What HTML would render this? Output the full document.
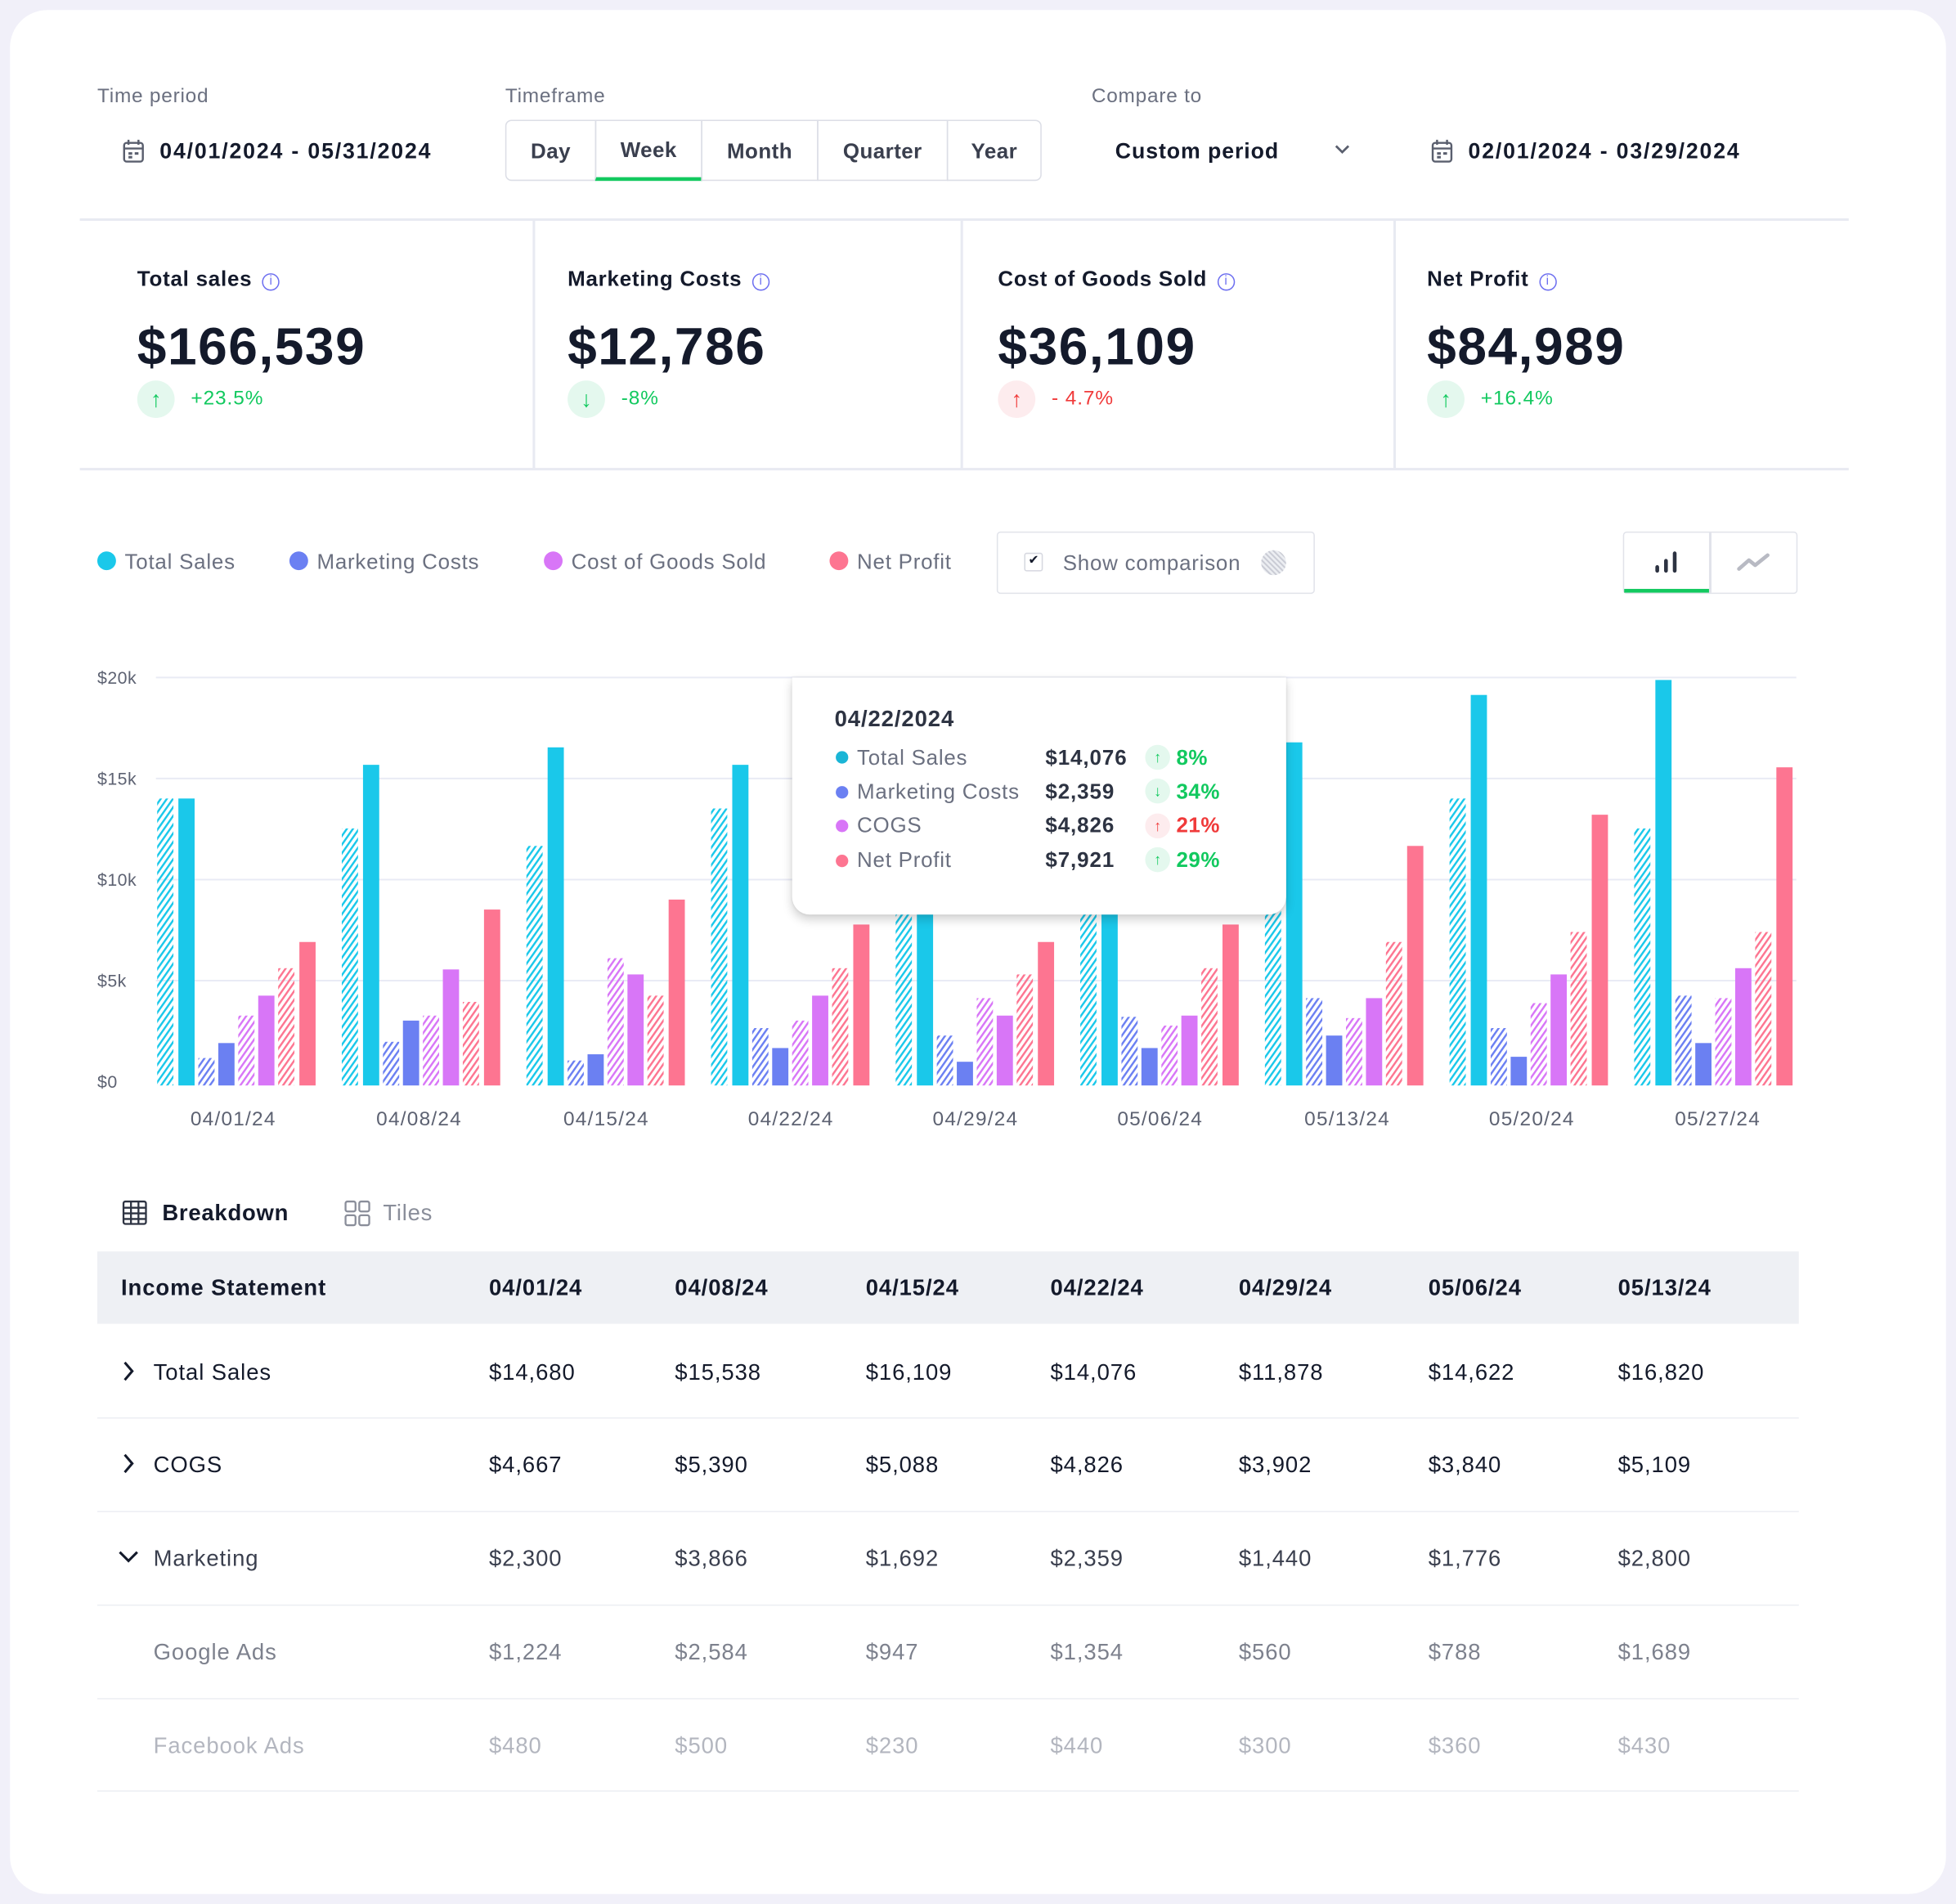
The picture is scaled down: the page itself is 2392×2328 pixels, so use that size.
<!DOCTYPE html>
<html><head><meta charset="utf-8">
<style>
*{margin:0;padding:0;box-sizing:border-box}
html,body{width:2392px;height:2328px;overflow:hidden;background:#f1f0f9}
#s{position:absolute;left:0;top:0;width:1568px;height:1526px;transform:scale(1.52551);transform-origin:0 0;font-family:"Liberation Sans",sans-serif;color:#141a2b;letter-spacing:0.3px}
.card{position:absolute;left:8px;top:8px;width:1552px;height:1510px;background:#fff;border-radius:30px}
.a{position:absolute;white-space:nowrap}
.lbl{font-size:16px;color:#6b7080;letter-spacing:0.5px}
.b{font-weight:bold}
.dt{font-size:17.5px;letter-spacing:1.2px}
.seg{position:absolute;top:96px;height:49px;border:1px solid #dcdee6;display:flex;align-items:center;justify-content:center;font-weight:bold;font-size:17px;color:#3a3f4e;padding-top:2px}
.kt{font-size:17px;font-weight:bold;color:#141a2b;letter-spacing:0.5px}
.kv{font-size:42px;font-weight:bold;color:#141a2b;letter-spacing:1px}
.info{display:inline-block;width:14px;height:14px;border:1.5px solid #6d6ff0;border-radius:50%;vertical-align:1px;margin-left:8px;font-size:10px;color:#6d6ff0;text-align:center;line-height:11px;font-weight:normal;letter-spacing:0}
.bd{position:absolute;width:30px;height:30px;border-radius:50%;display:flex;align-items:center;justify-content:center;font-size:18px;font-weight:bold;letter-spacing:0}
.pc{font-size:16px;letter-spacing:0.6px}
.leg{font-size:17px;color:#6b7080;letter-spacing:0.5px}
.dot{position:absolute;width:15px;height:15px;border-radius:50%}
.yl{font-size:14px;color:#5d6272}
.xl{font-size:16px;color:#5d6272;transform:translateX(-50%);letter-spacing:0.8px}
.td{font-size:18px;position:absolute;white-space:nowrap;letter-spacing:0.6px}
.hl{position:absolute;left:78px;width:1364px;height:1px;background:#eceef3}
</style></head><body><div id="s">
<div class="card"></div>

<div class="a lbl" style="left:78px;top:69px">Time period</div>
<svg class="a" style="left:98px;top:111px" width="18" height="20" viewBox="0 0 18 20"><rect x="1.5" y="3.5" width="15" height="15" rx="2" fill="none" stroke="#5a5f6e" stroke-width="1.6"/><line x1="1.5" y1="8" x2="16.5" y2="8" stroke="#5a5f6e" stroke-width="1.6"/><line x1="5" y1="1" x2="5" y2="5" stroke="#5a5f6e" stroke-width="1.6"/><line x1="13" y1="1" x2="13" y2="5" stroke="#5a5f6e" stroke-width="1.6"/><rect x="5" y="11" width="3" height="2" fill="#5a5f6e"/><rect x="10" y="11" width="3" height="2" fill="#5a5f6e"/><rect x="5" y="14" width="3" height="2" fill="#5a5f6e"/></svg>
<div class="a b dt" style="left:128px;top:111px">04/01/2024 - 05/31/2024</div>

<div class="a lbl" style="left:405px;top:69px">Timeframe</div>
<div class="seg" style="left:405px;width:73px;border-radius:5px 0 0 5px">Day</div>
<div class="seg" style="left:477px;width:86px;border-bottom:3px solid #12c95f">Week</div>
<div class="seg" style="left:562px;width:94px">Month</div>
<div class="seg" style="left:655px;width:105px">Quarter</div>
<div class="seg" style="left:759px;width:76px;border-radius:0 5px 5px 0">Year</div>

<div class="a lbl" style="left:875px;top:69px">Compare to</div>
<div class="a b" style="left:894px;top:111px;font-size:17.5px;letter-spacing:0.6px">Custom period</div>
<svg class="a" style="left:1069px;top:115px" width="14" height="10"><path d="M2 2 L7 7 L12 2" fill="none" stroke="#5a5f6e" stroke-width="1.8"/></svg>
<svg class="a" style="left:1147px;top:111px" width="18" height="20" viewBox="0 0 18 20"><rect x="1.5" y="3.5" width="15" height="15" rx="2" fill="none" stroke="#5a5f6e" stroke-width="1.6"/><line x1="1.5" y1="8" x2="16.5" y2="8" stroke="#5a5f6e" stroke-width="1.6"/><line x1="5" y1="1" x2="5" y2="5" stroke="#5a5f6e" stroke-width="1.6"/><line x1="13" y1="1" x2="13" y2="5" stroke="#5a5f6e" stroke-width="1.6"/><rect x="5" y="11" width="3" height="2" fill="#5a5f6e"/><rect x="10" y="11" width="3" height="2" fill="#5a5f6e"/><rect x="5" y="14" width="3" height="2" fill="#5a5f6e"/></svg>
<div class="a b dt" style="left:1177px;top:111px">02/01/2024 - 03/29/2024</div>

<div class="a" style="left:64px;top:175px;width:1418px;height:2px;background:#e8eaf2"></div>
<div class="a" style="left:64px;top:375px;width:1418px;height:2px;background:#e8eaf2"></div>
<div class="a" style="left:427px;top:177px;width:2px;height:198px;background:#e8eaf2"></div>
<div class="a" style="left:770px;top:177px;width:2px;height:198px;background:#e8eaf2"></div>
<div class="a" style="left:1117px;top:177px;width:2px;height:198px;background:#e8eaf2"></div>

<div class="a kt" style="left:110px;top:214px">Total sales<span class="info">i</span></div>
<div class="a kv" style="left:110px;top:254px">$166,539</div>
<div class="bd" style="left:110px;top:305px;background:#e4f8ee;color:#12c95f">↑</div>
<div class="a pc" style="left:153px;top:311px;color:#12c95f">+23.5%</div>

<div class="a kt" style="left:455px;top:214px">Marketing Costs<span class="info">i</span></div>
<div class="a kv" style="left:455px;top:254px">$12,786</div>
<div class="bd" style="left:455px;top:305px;background:#e4f8ee;color:#12c95f">↓</div>
<div class="a pc" style="left:498px;top:311px;color:#12c95f">-8%</div>

<div class="a kt" style="left:800px;top:214px">Cost of Goods Sold<span class="info">i</span></div>
<div class="a kv" style="left:800px;top:254px">$36,109</div>
<div class="bd" style="left:800px;top:305px;background:#fdecee;color:#f03a3a">↑</div>
<div class="a pc" style="left:843px;top:311px;color:#f03a3a">- 4.7%</div>

<div class="a kt" style="left:1144px;top:214px">Net Profit<span class="info">i</span></div>
<div class="a kv" style="left:1144px;top:254px">$84,989</div>
<div class="bd" style="left:1144px;top:305px;background:#e4f8ee;color:#12c95f">↑</div>
<div class="a pc" style="left:1187px;top:311px;color:#12c95f">+16.4%</div>

<div class="dot" style="left:78px;top:442px;background:#1ac8ea"></div><div class="a leg" style="left:100px;top:441px">Total Sales</div>
<div class="dot" style="left:232px;top:442px;background:#6b80f2"></div><div class="a leg" style="left:254px;top:441px">Marketing Costs</div>
<div class="dot" style="left:436px;top:442px;background:#d876f7"></div><div class="a leg" style="left:458px;top:441px">Cost of Goods Sold</div>
<div class="dot" style="left:665px;top:442px;background:#fd7591"></div><div class="a leg" style="left:687px;top:441px">Net Profit</div>

<div class="a" style="left:799px;top:426px;width:255px;height:50px;border:1.5px solid #e1e3ea;border-radius:3px"></div>
<div class="a" style="left:821px;top:443px;width:15px;height:15px;border:1.5px solid #d6d8e0;border-radius:2px;font-size:10px;text-align:center;line-height:12px;letter-spacing:0">✔</div>
<div class="a leg" style="left:852px;top:442px">Show comparison</div>
<svg class="a" style="left:1010px;top:440px" width="22" height="22"><defs><pattern id="g" width="3" height="3" patternUnits="userSpaceOnUse" patternTransform="rotate(-45)"><rect width="1.3" height="3" fill="#c9cbd4"/></pattern></defs><circle cx="11" cy="11" r="10" fill="#eceef2"/><circle cx="11" cy="11" r="10" fill="url(#g)"/></svg>

<div class="a" style="left:1301px;top:426px;width:140px;height:50px;border:1.5px solid #e1e3ea;border-radius:3px"></div>
<div class="a" style="left:1370px;top:427px;width:1.5px;height:48px;background:#e1e3ea"></div>
<div class="a" style="left:1302px;top:472px;width:68px;height:3px;background:#12c95f"></div>
<svg class="a" style="left:1325px;top:440px" width="22" height="22"><rect x="2" y="13" width="3" height="6" rx="1.5" fill="#2d3342"/><rect x="9" y="8" width="3" height="11" rx="1.5" fill="#2d3342"/><rect x="16" y="2" width="3" height="17" rx="1.5" fill="#2d3342"/></svg>
<svg class="a" style="left:1392px;top:442px" width="28" height="18"><path d="M2 14 L10 7 L15 11 L25 3" fill="none" stroke="#b8bac3" stroke-width="3" stroke-linejoin="round" stroke-linecap="round"/></svg>

<svg class="a" style="left:0;top:0" width="1568" height="1000">
<defs>
<pattern id="hc" width="4" height="4" patternUnits="userSpaceOnUse" patternTransform="rotate(35)"><rect width="1.6" height="4" fill="#1ac8ea"/></pattern>
<pattern id="hb" width="4" height="4" patternUnits="userSpaceOnUse" patternTransform="rotate(35)"><rect width="1.6" height="4" fill="#6b80f2"/></pattern>
<pattern id="hp" width="4" height="4" patternUnits="userSpaceOnUse" patternTransform="rotate(35)"><rect width="1.6" height="4" fill="#d876f7"/></pattern>
<pattern id="hr" width="4" height="4" patternUnits="userSpaceOnUse" patternTransform="rotate(35)"><rect width="1.6" height="4" fill="#fd7591"/></pattern>
</defs>
<g stroke="#e9ebf5" stroke-width="1.3">
<line x1="125" y1="543" x2="1440" y2="543"/><line x1="125" y1="624" x2="1440" y2="624"/><line x1="125" y1="705" x2="1440" y2="705"/><line x1="125" y1="786" x2="1440" y2="786"/>
</g>
<g id="bars">
<rect x="126" y="640" width="13" height="230" fill="url(#hc)"/><rect x="143" y="640" width="13" height="230" fill="#1ac8ea"/><rect x="159" y="848" width="13" height="22" fill="url(#hb)"/><rect x="175" y="836" width="13" height="34" fill="#6b80f2"/><rect x="191" y="814" width="13" height="56" fill="url(#hp)"/><rect x="207" y="798" width="13" height="72" fill="#d876f7"/><rect x="223" y="776" width="13" height="94" fill="url(#hr)"/><rect x="240" y="755" width="13" height="115" fill="#fd7591"/>
<rect x="274" y="664" width="13" height="206" fill="url(#hc)"/><rect x="291" y="613" width="13" height="257" fill="#1ac8ea"/><rect x="307" y="835" width="13" height="35" fill="url(#hb)"/><rect x="323" y="818" width="13" height="52" fill="#6b80f2"/><rect x="339" y="814" width="13" height="56" fill="url(#hp)"/><rect x="355" y="777" width="13" height="93" fill="#d876f7"/><rect x="371" y="803" width="13" height="67" fill="url(#hr)"/><rect x="388" y="729" width="13" height="141" fill="#fd7591"/>
<rect x="422" y="678" width="13" height="192" fill="url(#hc)"/><rect x="439" y="599" width="13" height="271" fill="#1ac8ea"/><rect x="455" y="850" width="13" height="20" fill="url(#hb)"/><rect x="471" y="845" width="13" height="25" fill="#6b80f2"/><rect x="487" y="768" width="13" height="102" fill="url(#hp)"/><rect x="503" y="781" width="13" height="89" fill="#d876f7"/><rect x="519" y="798" width="13" height="72" fill="url(#hr)"/><rect x="536" y="721" width="13" height="149" fill="#fd7591"/>
<rect x="570" y="648" width="13" height="222" fill="url(#hc)"/><rect x="587" y="613" width="13" height="257" fill="#1ac8ea"/><rect x="603" y="824" width="13" height="46" fill="url(#hb)"/><rect x="619" y="840" width="13" height="30" fill="#6b80f2"/><rect x="635" y="818" width="13" height="52" fill="url(#hp)"/><rect x="651" y="798" width="13" height="72" fill="#d876f7"/><rect x="667" y="776" width="13" height="94" fill="url(#hr)"/><rect x="684" y="741" width="13" height="129" fill="#fd7591"/>
<rect x="718" y="700" width="13" height="170" fill="url(#hc)"/><rect x="735" y="690" width="13" height="180" fill="#1ac8ea"/><rect x="751" y="830" width="13" height="40" fill="url(#hb)"/><rect x="767" y="851" width="13" height="19" fill="#6b80f2"/><rect x="783" y="800" width="13" height="70" fill="url(#hp)"/><rect x="799" y="814" width="13" height="56" fill="#d876f7"/><rect x="815" y="781" width="13" height="89" fill="url(#hr)"/><rect x="832" y="755" width="13" height="115" fill="#fd7591"/>
<rect x="866" y="730" width="13" height="140" fill="url(#hc)"/><rect x="883" y="700" width="13" height="170" fill="#1ac8ea"/><rect x="899" y="815" width="13" height="55" fill="url(#hb)"/><rect x="915" y="840" width="13" height="30" fill="#6b80f2"/><rect x="931" y="822" width="13" height="48" fill="url(#hp)"/><rect x="947" y="814" width="13" height="56" fill="#d876f7"/><rect x="963" y="776" width="13" height="94" fill="url(#hr)"/><rect x="980" y="741" width="13" height="129" fill="#fd7591"/>
<rect x="1014" y="730" width="13" height="140" fill="url(#hc)"/><rect x="1031" y="595" width="13" height="275" fill="#1ac8ea"/><rect x="1047" y="800" width="13" height="70" fill="url(#hb)"/><rect x="1063" y="830" width="13" height="40" fill="#6b80f2"/><rect x="1079" y="816" width="13" height="54" fill="url(#hp)"/><rect x="1095" y="800" width="13" height="70" fill="#d876f7"/><rect x="1111" y="755" width="13" height="115" fill="url(#hr)"/><rect x="1128" y="678" width="13" height="192" fill="#fd7591"/>
<rect x="1162" y="640" width="13" height="230" fill="url(#hc)"/><rect x="1179" y="557" width="13" height="313" fill="#1ac8ea"/><rect x="1195" y="824" width="13" height="46" fill="url(#hb)"/><rect x="1211" y="847" width="13" height="23" fill="#6b80f2"/><rect x="1227" y="804" width="13" height="66" fill="url(#hp)"/><rect x="1243" y="781" width="13" height="89" fill="#d876f7"/><rect x="1259" y="747" width="13" height="123" fill="url(#hr)"/><rect x="1276" y="653" width="13" height="217" fill="#fd7591"/>
<rect x="1310" y="664" width="13" height="206" fill="url(#hc)"/><rect x="1327" y="545" width="13" height="325" fill="#1ac8ea"/><rect x="1343" y="798" width="13" height="72" fill="url(#hb)"/><rect x="1359" y="836" width="13" height="34" fill="#6b80f2"/><rect x="1375" y="800" width="13" height="70" fill="url(#hp)"/><rect x="1391" y="776" width="13" height="94" fill="#d876f7"/><rect x="1407" y="747" width="13" height="123" fill="url(#hr)"/><rect x="1424" y="615" width="13" height="255" fill="#fd7591"/>
</g>
</svg>

<div class="a yl" style="left:78px;top:535px">$20k</div>
<div class="a yl" style="left:78px;top:616px">$15k</div>
<div class="a yl" style="left:78px;top:697px">$10k</div>
<div class="a yl" style="left:78px;top:778px">$5k</div>
<div class="a yl" style="left:78px;top:859px">$0</div>

<div class="a xl" style="left:187px;top:889px">04/01/24</div>
<div class="a xl" style="left:336px;top:889px">04/08/24</div>
<div class="a xl" style="left:486px;top:889px">04/15/24</div>
<div class="a xl" style="left:634px;top:889px">04/22/24</div>
<div class="a xl" style="left:782px;top:889px">04/29/24</div>
<div class="a xl" style="left:930px;top:889px">05/06/24</div>
<div class="a xl" style="left:1080px;top:889px">05/13/24</div>
<div class="a xl" style="left:1228px;top:889px">05/20/24</div>
<div class="a xl" style="left:1377px;top:889px">05/27/24</div>

<div class="a" style="left:635px;top:543px;width:396px;height:190px;background:#fff;border-radius:0 0 14px 14px;box-shadow:0 4px 8px rgba(0,0,0,0.18),0 0 2px rgba(0,0,0,0.08)"></div>
<div class="a b" style="left:669px;top:566px;font-size:18px;color:#2d3342;letter-spacing:0.6px">04/22/2024</div>
<div class="dot" style="left:670px;top:602px;width:10px;height:10px;background:#1ab5d6"></div>
<div class="dot" style="left:670px;top:630px;width:10px;height:10px;background:#6b80f2"></div>
<div class="dot" style="left:670px;top:657px;width:10px;height:10px;background:#d876f7"></div>
<div class="dot" style="left:670px;top:685px;width:10px;height:10px;background:#fd7591"></div>
<div class="a leg" style="left:687px;top:598px">Total Sales</div>
<div class="a leg" style="left:687px;top:625px">Marketing Costs</div>
<div class="a leg" style="left:687px;top:652px">COGS</div>
<div class="a leg" style="left:687px;top:680px">Net Profit</div>
<div class="a b" style="left:838px;top:598px;font-size:17px;color:#2d3342;letter-spacing:0.6px">$14,076</div>
<div class="a b" style="left:838px;top:625px;font-size:17px;color:#2d3342;letter-spacing:0.6px">$2,359</div>
<div class="a b" style="left:838px;top:652px;font-size:17px;color:#2d3342;letter-spacing:0.6px">$4,826</div>
<div class="a b" style="left:838px;top:680px;font-size:17px;color:#2d3342;letter-spacing:0.6px">$7,921</div>
<div class="bd" style="left:918px;top:597px;width:20px;height:20px;font-size:12px;background:#e4f8ee;color:#12c95f">↑</div>
<div class="bd" style="left:918px;top:624px;width:20px;height:20px;font-size:12px;background:#e4f8ee;color:#12c95f">↓</div>
<div class="bd" style="left:918px;top:652px;width:20px;height:20px;font-size:12px;background:#fdecee;color:#f03a3a">↑</div>
<div class="bd" style="left:918px;top:679px;width:20px;height:20px;font-size:12px;background:#e4f8ee;color:#12c95f">↑</div>
<div class="a b" style="left:943px;top:598px;font-size:17px;color:#12c95f">8%</div>
<div class="a b" style="left:943px;top:625px;font-size:17px;color:#12c95f">34%</div>
<div class="a b" style="left:943px;top:652px;font-size:17px;color:#f03a3a">21%</div>
<div class="a b" style="left:943px;top:680px;font-size:17px;color:#12c95f">29%</div>

<svg class="a" style="left:98px;top:962px" width="20" height="20"><g fill="none" stroke="#2d3342" stroke-width="1.5"><rect x="1" y="1" width="18" height="18" rx="1.5"/><line x1="1" y1="6" x2="19" y2="6"/><line x1="1" y1="10.5" x2="19" y2="10.5"/><line x1="1" y1="15" x2="19" y2="15"/><line x1="7" y1="1" x2="7" y2="19"/><line x1="13" y1="1" x2="13" y2="19"/></g></svg>
<div class="a b" style="left:130px;top:962px;font-size:18px;letter-spacing:0.5px">Breakdown</div>
<svg class="a" style="left:276px;top:962px" width="22" height="22"><g fill="none" stroke="#8a8e9a" stroke-width="1.5"><rect x="1" y="1" width="8" height="8" rx="1.5"/><rect x="12" y="1" width="8" height="8" rx="1.5"/><rect x="1" y="12" width="8" height="8" rx="1.5"/><rect x="12" y="12" width="8" height="8" rx="1.5"/></g></svg>
<div class="a" style="left:307px;top:962px;font-size:18px;color:#8a8e9a;letter-spacing:0.5px">Tiles</div>

<div class="a" style="left:78px;top:1003px;width:1364px;height:58px;background:#eef0f4"></div>
<div class="td b" style="left:97px;top:1022px">Income Statement</div>
<div class="td b" style="left:392px;top:1022px">04/01/24</div>
<div class="td b" style="left:541px;top:1022px">04/08/24</div>
<div class="td b" style="left:694px;top:1022px">04/15/24</div>
<div class="td b" style="left:842px;top:1022px">04/22/24</div>
<div class="td b" style="left:993px;top:1022px">04/29/24</div>
<div class="td b" style="left:1145px;top:1022px">05/06/24</div>
<div class="td b" style="left:1297px;top:1022px">05/13/24</div>

<div class="hl" style="top:1136px"></div><div class="hl" style="top:1211px"></div><div class="hl" style="top:1286px"></div><div class="hl" style="top:1361px"></div><div class="hl" style="top:1435px"></div>

<svg class="a" style="left:96px;top:1090px" width="14" height="18"><path d="M4 2 L10 9 L4 16" fill="none" stroke="#141a2b" stroke-width="2"/></svg>
<svg class="a" style="left:96px;top:1164px" width="14" height="18"><path d="M4 2 L10 9 L4 16" fill="none" stroke="#141a2b" stroke-width="2"/></svg>
<svg class="a" style="left:94px;top:1241px" width="18" height="14"><path d="M2 3 L9 10 L16 3" fill="none" stroke="#141a2b" stroke-width="2"/></svg>

<div class="td" style="left:123px;top:1090px">Total Sales</div>
<div class="td" style="left:392px;top:1090px">$14,680</div><div class="td" style="left:541px;top:1090px">$15,538</div><div class="td" style="left:694px;top:1090px">$16,109</div><div class="td" style="left:842px;top:1090px">$14,076</div><div class="td" style="left:993px;top:1090px">$11,878</div><div class="td" style="left:1145px;top:1090px">$14,622</div><div class="td" style="left:1297px;top:1090px">$16,820</div>

<div class="td" style="left:123px;top:1164px">COGS</div>
<div class="td" style="left:392px;top:1164px">$4,667</div><div class="td" style="left:541px;top:1164px">$5,390</div><div class="td" style="left:694px;top:1164px">$5,088</div><div class="td" style="left:842px;top:1164px">$4,826</div><div class="td" style="left:993px;top:1164px">$3,902</div><div class="td" style="left:1145px;top:1164px">$3,840</div><div class="td" style="left:1297px;top:1164px">$5,109</div>

<div class="td" style="left:123px;top:1239px;color:#3a3f4e">Marketing</div>
<div class="td" style="left:392px;top:1239px;color:#3a3f4e">$2,300</div><div class="td" style="left:541px;top:1239px;color:#3a3f4e">$3,866</div><div class="td" style="left:694px;top:1239px;color:#3a3f4e">$1,692</div><div class="td" style="left:842px;top:1239px;color:#3a3f4e">$2,359</div><div class="td" style="left:993px;top:1239px;color:#3a3f4e">$1,440</div><div class="td" style="left:1145px;top:1239px;color:#3a3f4e">$1,776</div><div class="td" style="left:1297px;top:1239px;color:#3a3f4e">$2,800</div>

<div class="td" style="left:123px;top:1314px;color:#7d818d">Google Ads</div>
<div class="td" style="left:392px;top:1314px;color:#7d818d">$1,224</div><div class="td" style="left:541px;top:1314px;color:#7d818d">$2,584</div><div class="td" style="left:694px;top:1314px;color:#7d818d">$947</div><div class="td" style="left:842px;top:1314px;color:#7d818d">$1,354</div><div class="td" style="left:993px;top:1314px;color:#7d818d">$560</div><div class="td" style="left:1145px;top:1314px;color:#7d818d">$788</div><div class="td" style="left:1297px;top:1314px;color:#7d818d">$1,689</div>

<div class="td" style="left:123px;top:1389px;color:#b3b6bf">Facebook Ads</div>
<div class="td" style="left:392px;top:1389px;color:#b3b6bf">$480</div><div class="td" style="left:541px;top:1389px;color:#b3b6bf">$500</div><div class="td" style="left:694px;top:1389px;color:#b3b6bf">$230</div><div class="td" style="left:842px;top:1389px;color:#b3b6bf">$440</div><div class="td" style="left:993px;top:1389px;color:#b3b6bf">$300</div><div class="td" style="left:1145px;top:1389px;color:#b3b6bf">$360</div><div class="td" style="left:1297px;top:1389px;color:#b3b6bf">$430</div>

</div></body></html>
